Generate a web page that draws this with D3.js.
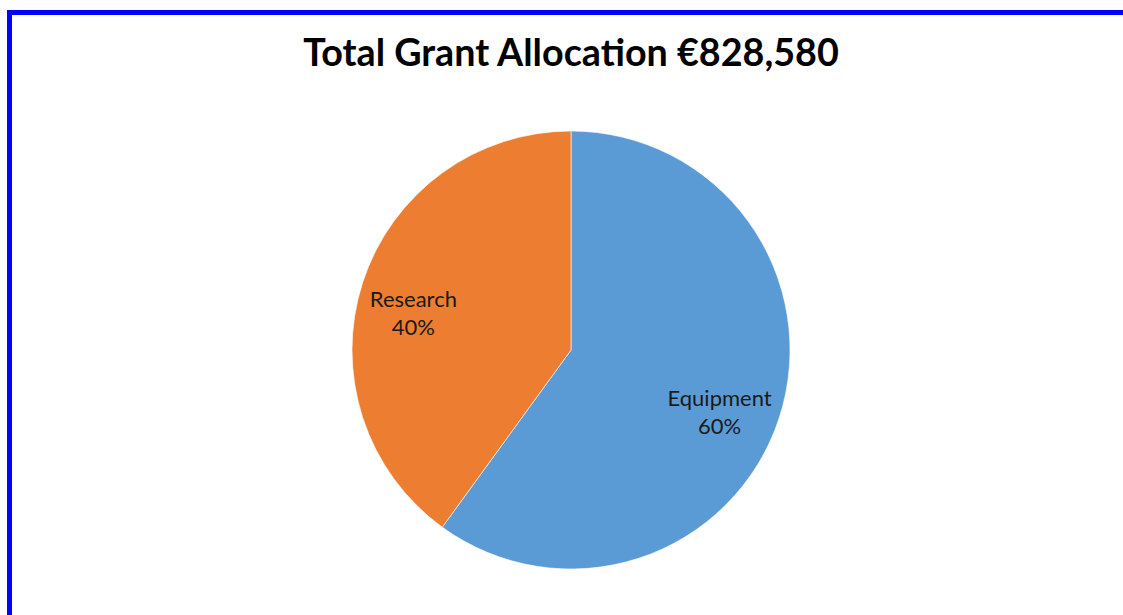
<!DOCTYPE html>
<html><head><meta charset="utf-8">
<script src="https://cdn.jsdelivr.net/npm/d3@7"></script>
<style>html,body{margin:0;padding:0;background:#fff;overflow:hidden}</style>
</head><body><svg id="chart" width="1123" height="615"></svg>
<script>
const categories = ["Equipment", "Research"];
const values = [60, 40];
const colors = ["#5B9BD5", "#ED7D31"];
const title = "Total Grant Allocation €828,580";

const svg = d3.select("#chart");
svg.append("line").attr("x1", 7).attr("x2", 1123).attr("y1", 12.5).attr("y2", 12.5)
  .attr("stroke", "#0000FF").attr("stroke-width", 5);
svg.append("line").attr("x1", 9.5).attr("x2", 9.5).attr("y1", 10).attr("y2", 615)
  .attr("stroke", "#0000FF").attr("stroke-width", 5);

svg.append("text").attr("x", 571).attr("y", 66).attr("text-anchor", "middle")
  .attr("font-family", "Lato, 'Open Sans', sans-serif").attr("font-weight", "bold")
  .attr("font-size", 37.7).attr("fill", "#000").text(title);

const cx = 571, cy = 350, R = 219;
const pie = d3.pie().sort(null).value(d => d.v);
const data = categories.map((c, i) => ({c, v: values[i], color: colors[i]}));
const arcs = pie(data);
const arc = d3.arc().innerRadius(0).outerRadius(R);
const labelArc = d3.arc().innerRadius(161).outerRadius(161);
const g = svg.append("g").attr("transform", `translate(${cx},${cy})`);
g.selectAll("path").data(arcs).join("path")
  .attr("d", arc).attr("fill", d => d.data.color)
  .attr("stroke", "#fff").attr("stroke-width", 0.6);

const lbl = g.selectAll("text").data(arcs).join("text")
  .attr("transform", d => { const c = labelArc.centroid(d); return `translate(${c[0] - 4.5},${c[1]})`; })
  .attr("text-anchor", "middle")
  .attr("font-family", "Lato, 'Open Sans', sans-serif")
  .attr("font-size", 22).attr("fill", "#1a1a1a");
lbl.append("tspan").attr("x", 0).attr("y", 6.5).text(d => d.data.c);
lbl.append("tspan").attr("x", 0).attr("y", 34.5).text(d => Math.round(d.value) + "%");
</script></body></html>
